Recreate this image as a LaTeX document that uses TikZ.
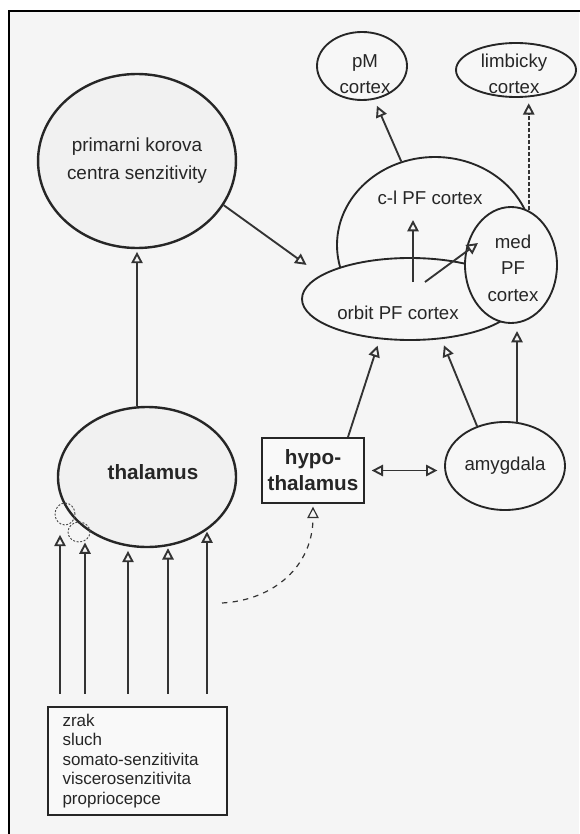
\documentclass[tikz,border=0pt]{standalone}
\usepackage{fontspec}
\setmainfont{Liberation Sans}
\usetikzlibrary{shapes.geometric,arrows.meta,calc}

\begin{document}
\begin{tikzpicture}[x=0.75pt,y=-0.75pt,
  every node/.style={text=black!85},
  organ/.style={ellipse, draw=black!85, line width=1.4pt, inner sep=0pt, fill=gray!6},
  dense/.style={organ, line width=1.8pt, fill=gray!11},
  lbl/.style={font=\fontsize{14}{20}\selectfont, align=center},
  bold/.style={font=\bfseries\fontsize{15.5}{19.5}\selectfont, align=center},
  box/.style={draw=black!85, fill=gray!5, inner sep=0pt},
  loop/.style={ellipse, draw=black!70, line width=0.7pt, dash pattern=on 1.5pt off 1.2pt, inner sep=0pt},
  >={Triangle[open,length=8.5pt,width=8.5pt]},
  arr/.style={draw=black!80, line width=1.4pt, ->},
  dasharr/.style={arr, dash pattern=on 3pt off 1.5pt},
  thinarr/.style={arr, line width=0.9pt, dash pattern=on 4pt off 4pt}
]
\useasboundingbox (0,0) rectangle (579,834);
\fill[white!96!black] (0,0) rectangle (579,834);
\fill[white] (0,0) rectangle (579,10);
\fill[white] (0,0) rectangle (8,834);
% outer frame, open towards the right and bottom
\draw[line width=1.6pt] (9,840) -- (9,11) -- (590,11);

% sensory cortex and the prefrontal areas
\node[dense, minimum width=129pt, minimum height=130.5pt, font=\fontsize{14.2}{21}\selectfont, align=center]
  (prim) at (137,161) {primarni korova\\centra senzitivity};

\node[organ, minimum width=67.5pt, minimum height=51pt] (pm) at (362,66) {};
\node[lbl, font=\fontsize{14}{19.5}\selectfont] (pmtxt) at (365,74) {pM\\cortex};

\node[organ, minimum width=90pt, minimum height=40.5pt] (limb) at (516,70) {};
\node[lbl, font=\fontsize{14}{19.5}\selectfont] (limbtxt) at (514,74) {limbicky\\cortex};

\node[organ, minimum width=147pt, minimum height=132pt] (cl) at (435,245) {};
\node[organ, minimum width=162pt, minimum height=61.5pt] (orbit) at (410,299) {};
\node[organ, minimum width=69pt, minimum height=87pt] (med) at (511,265) {};
\node[lbl] (cltxt) at (430,198) {c-l PF cortex};
\node[lbl] (orbtxt) at (398,313) {orbit PF cortex};
\node[lbl] (medtxt) at (513,268) {med\\PF\\cortex};

% subcortical structures
\node[dense, minimum width=133.5pt, minimum height=105pt] (thal) at (147,477) {};
\node[bold] (thaltxt) at (153,472) {thalamus};
\node[loop, minimum width=15pt, minimum height=16.5pt] (loopa) at (65,514) {};
\node[loop, minimum width=16.5pt, minimum height=15pt] (loopb) at (79,532) {};

\node[box, line width=1.5pt, minimum width=76.5pt, minimum height=48.75pt, bold] (hypo) at (313,470.5) {hypo-\\thalamus};

\node[organ, minimum width=90pt, minimum height=66pt, lbl] (amyg) at (505,466) {amygdala};

\node[box, line width=1.9pt, minimum width=134.25pt, minimum height=81pt, text width=112.5pt, align=left,
  font=\fontsize{12.75}{14.6}\selectfont] (senses) at (137.5,761)
  {zrak\\sluch\\somato-senzitivita\\viscerosenzitivita\\propriocepce};

% sensory pathways into the thalamus
\draw[arr, shorten >=7pt] ($(60,0 |- senses.north)+(0,-12)$) -- (60,0 |- loopa.south);
\draw[arr] ($(85,0 |- senses.north)+(0,-12)$) -- (85,0 |- loopb.south);
\draw[arr, shorten >=2pt] ($(128,0 |- senses.north)+(0,-12)$) -- (128,0 |- thal.south);
\draw[arr] ($(168,0 |- senses.north)+(0,-12)$) -- (168,0 |- thal.south);
\draw[arr, shorten >=2pt] ($(207,0 |- senses.north)+(0,-12)$) -- (207,0 |- thal.-40);

% ascending connections
\draw[arr, shorten >=2pt] (prim.south |- thal.north) -- (prim.south);
\draw[arr, shorten >=13pt] (prim.-27) -- (orbit.165);
\draw[arr] ($(orbit.center)+(3,-17)$) -- ($(cl.center)+(-22,-25)$);
\draw[arr] ($(orbit.center)+(15,-17)$) -- ($(med.center)+(-33,-22)$);
\draw[arr, shorten >=5pt] (cl.112) -- (pm.-70);
\draw[dasharr, shorten >=4pt] (med.72) -- (med.72 |- limb.south);
\draw[arr, shorten >=5pt] ([xshift=26.25pt]hypo.north) -- (orbit.-127);
\draw[arr, shorten >=5pt] (amyg.125) -- (orbit.-52);
\draw[arr, shorten >=6pt] ($(amyg.center)+(12,-43)$) -- ($(med.center)+(6,58)$);
\draw[arr, <->, shorten <=5pt, shorten >=5pt] (hypo.east) -- (hypo.east -| amyg.west);

% pathway reaching the hypothalamus from below
\coordinate (src) at (222,603);
\draw[thinarr, shorten >=2pt] (src) .. controls (275,600) and (313,565) .. (hypo.south);
\end{tikzpicture}
\end{document}
